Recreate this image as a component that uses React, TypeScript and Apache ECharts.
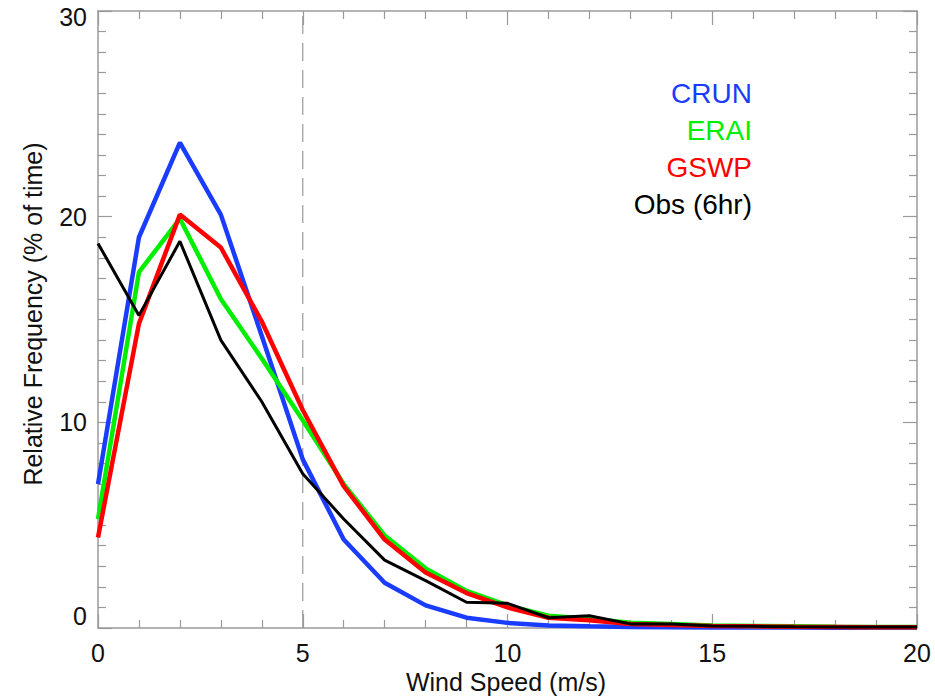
import React, { useEffect, useRef } from "react";
import * as echarts from "echarts";

const windSpeed = [0, 1, 2, 3, 4, 5, 6, 7, 8, 9, 10, 11, 12, 13, 14, 15, 16, 17, 18, 19, 20];
const crun = [7.0, 19.0, 23.6, 20.1, 14.2, 8.2, 4.3, 2.2, 1.1, 0.5, 0.25, 0.12, 0.08, 0.05, 0.04, 0.03, 0.02, 0.02, 0.01, 0.01, 0.01];
const erai = [5.3, 17.3, 19.9, 16.0, 13.1, 10.1, 7.0, 4.5, 2.9, 1.8, 1.1, 0.6, 0.45, 0.25, 0.2, 0.12, 0.1, 0.08, 0.06, 0.05, 0.05];
const gswp = [4.4, 14.8, 20.1, 18.5, 14.9, 10.6, 6.9, 4.3, 2.7, 1.7, 1.0, 0.5, 0.38, 0.2, 0.15, 0.1, 0.08, 0.06, 0.05, 0.04, 0.04];
const obs = [18.7, 15.2, 18.8, 14.0, 11.0, 7.5, 5.3, 3.3, 2.3, 1.25, 1.2, 0.5, 0.6, 0.2, 0.2, 0.1, 0.08, 0.06, 0.05, 0.05, 0.05];
const seriesNames = ["CRUN", "ERAI", "GSWP", "Obs (6hr)"];
const seriesColors = ["#1a3cff", "#00ee00", "#ff0000", "#000000"];
const xLabel = "Wind Speed (m/s)";
const yLabel = "Relative Frequency (% of time)";

export default function App() {
  const ref = useRef<HTMLDivElement>(null);
  useEffect(() => {
    if (!ref.current) return;
    const chart = echarts.init(ref.current, null, { renderer: "svg" });
    const values = [crun, erai, gswp, obs];
    const font = "'Liberation Sans', Helvetica, Arial, sans-serif";
    const axisGray = "#9a9a9a";
    const baseAxis = {
      type: "value" as const,
      axisLine: { show: true, onZero: false, lineStyle: { color: axisGray, width: 1.5 } },
      axisTick: { show: true, inside: true, length: 14, lineStyle: { color: axisGray, width: 1.2 } },
      minorTick: { show: true, length: 8, lineStyle: { color: axisGray, width: 1.2 } },
      splitLine: { show: false },
      minorSplitLine: { show: false },
    };
    const series: any[] = values.map((v, i) => ({
      name: seriesNames[i],
      type: "line",
      data: windSpeed.map((x, j) => [x, v[j]]),
      showSymbol: false,
      symbol: "none",
      lineStyle: { color: seriesColors[i], width: i === 3 ? 3 : 4.5 },
      itemStyle: { color: seriesColors[i] },
      z: 3 + i,
    }));
    series.unshift({
      type: "line",
      data: [
        [5, 0],
        [5, 30],
      ],
      symbol: "none",
      lineStyle: { color: "#a0a0a0", width: 1.3, type: [18, 9] },
      z: 1,
      silent: true,
    });
    chart.setOption({
      animation: false,
      grid: { left: 98, right: 18, top: 11, bottom: 68, containLabel: false },
      xAxis: [
        {
          ...baseAxis,
          position: "bottom",
          min: 0,
          max: 20,
          interval: 5,
          minorTick: { ...baseAxis.minorTick, splitNumber: 5 },
          axisLabel: { color: "#111", fontSize: 25, fontFamily: font, margin: 12 },
        },
        {
          ...baseAxis,
          position: "top",
          min: 0,
          max: 20,
          interval: 5,
          minorTick: { ...baseAxis.minorTick, splitNumber: 5 },
          axisLabel: { show: false },
        },
      ],
      yAxis: [
        {
          ...baseAxis,
          position: "left",
          min: 0,
          max: 30,
          interval: 10,
          minorTick: { ...baseAxis.minorTick, splitNumber: 10 },
          axisLabel: {
            color: "#111",
            fontSize: 25,
            fontFamily: font,
            margin: 11,
            verticalAlignMinLabel: "bottom",
            formatter: (v: number) => (v === 30 ? "{t|" + v + "}" : String(v)),
            rich: {
              t: { color: "#111", fontSize: 25, fontFamily: font, padding: [12, 0, 0, 0] },
            },
          },
        },
        {
          ...baseAxis,
          position: "right",
          min: 0,
          max: 30,
          interval: 10,
          minorTick: { ...baseAxis.minorTick, splitNumber: 10 },
          axisLabel: { show: false },
        },
      ],
      series,
      graphic: [
        {
          type: "text",
          x: 33,
          y: 314,
          rotation: Math.PI / 2,
          style: {
            text: yLabel,
            fill: "#111",
            font: `25px ${font}`,
            align: "center",
            verticalAlign: "middle",
          },
        },
        {
          type: "text",
          x: 506,
          y: 682,
          style: {
            text: xLabel,
            fill: "#111",
            font: `25px ${font}`,
            align: "center",
            verticalAlign: "middle",
          },
        },
        ...seriesNames.map((n, i) => ({
          type: "text",
          x: 752,
          y: 93 + i * 37.3,
          style: {
            text: n,
            fill: seriesColors[i],
            font: `28px ${font}`,
            align: "right",
            verticalAlign: "middle",
          },
        })),
      ],
    });
    return () => chart.dispose();
  }, []);
  return (
    <div
      ref={ref}
      style={{ position: "fixed", left: 0, top: 0, width: 935, height: 696, background: "#fff" }}
    />
  );
}
